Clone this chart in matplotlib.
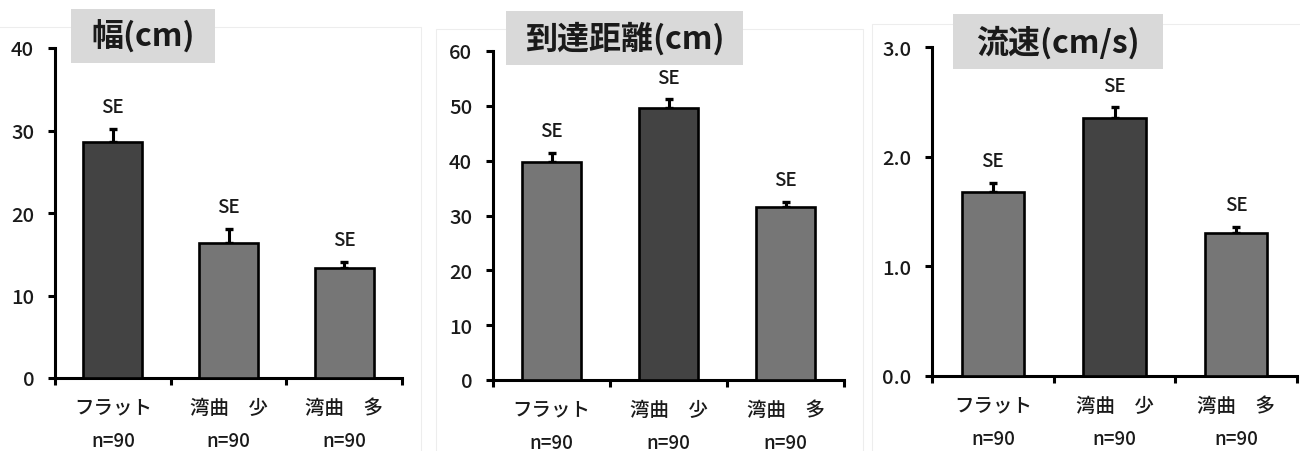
import matplotlib
matplotlib.use("Agg")
import matplotlib.pyplot as plt
from matplotlib.patches import Rectangle

plt.rcParams['font.family'] = ['Noto Sans CJK JP', 'DejaVu Sans']

categories = ["フラット", "湾曲　少", "湾曲　多"]
n_labels = ["n=90", "n=90", "n=90"]

width_mean = [28.6, 16.4, 13.3]
width_se = [1.6, 1.7, 0.8]

dist_mean = [39.8, 49.6, 31.6]
dist_se = [1.6, 1.6, 0.9]

speed_mean = [1.68, 2.35, 1.30]
speed_se = [0.08, 0.10, 0.06]

W, H = 1300, 452
DARK = "#434343"
LIGHT = "#767676"
TXT = "#1a1a1a"

fig = plt.figure(figsize=(W / 100, H / 100), dpi=100)


def px_axes(l, r, t, b):
    return fig.add_axes([l / W, 1 - b / H, (r - l) / W, (b - t) / H])


def frame(l, r, t):
    # faint outline of each chart area
    fig.add_artist(Rectangle((l / W, -0.01), (r - l) / W, 1 - t / H + 0.01,
                             transform=fig.transFigure, fill=False,
                             edgecolor="#ededed", lw=0.8, zorder=0))


def title_box(l, r, t, b, text):
    fig.add_artist(Rectangle((l / W, 1 - b / H), (r - l) / W, (b - t) / H,
                             transform=fig.transFigure, facecolor="#d9d9d9",
                             edgecolor="none", zorder=5))
    fig.text((l + r) / 2 / W, 1 - (t + b) / 2 / H, text, ha="center",
             va="center", fontsize=23, fontweight="bold", color=TXT, zorder=6)


def bar_panel(ax, means, errs, dark_idx, ymax, yticks, fmt):
    x = range(len(means))
    colors = [DARK if i == dark_idx else LIGHT for i in x]
    ax.bar(x, means, width=0.51, color=colors, edgecolor="black",
           linewidth=1.9, zorder=3)
    ax.errorbar(x, means, yerr=[[0] * len(errs), errs], fmt="none",
                ecolor="black", elinewidth=2.2, capsize=3.2, capthick=2.4,
                zorder=2)
    for i, (m, e) in enumerate(zip(means, errs)):
        ax.annotate("SE", (i, m + e), xytext=(0, 9), textcoords="offset points",
                    ha="center", va="bottom", fontsize=13.5, fontweight="medium",
                    color=TXT)
    ax.set_xlim(-0.5, 2.5)
    ax.set_ylim(0, ymax)
    ax.set_xticks([-0.5, 0.5, 1.5, 2.5])
    ax.set_xticklabels([])
    ax.set_yticks(yticks)
    ax.set_yticklabels([fmt.format(v) for v in yticks], fontsize=14.5,
                       fontweight="medium", color=TXT)
    ax.tick_params(axis="both", direction="out", length=5, width=2.2,
                   color="black")
    ax.tick_params(axis="y", pad=10)
    for s in ("top", "right"):
        ax.spines[s].set_visible(False)
    for s in ("left", "bottom"):
        ax.spines[s].set_linewidth(2.2)
        ax.spines[s].set_color("black")
    tr = ax.get_xaxis_transform()
    for i, (c, n) in enumerate(zip(categories, n_labels)):
        ax.annotate(c, (i, 0), xycoords=tr, xytext=(0, -21),
                    textcoords="offset points", ha="center", va="center",
                    fontsize=14, fontweight="medium", color=TXT)
        ax.annotate(n, (i, 0), xycoords=tr, xytext=(0, -49),
                    textcoords="offset points", ha="center", va="baseline",
                    fontsize=13.5, fontweight="medium", color=TXT)
    ax.patch.set_alpha(0)


frame(-5, 421, 28)
frame(436, 863, 30)
frame(872, 1310, 25)

ax1 = px_axes(55, 402, 49, 379)
bar_panel(ax1, width_mean, width_se, 0, 40, [0, 10, 20, 30, 40], "{:.0f}")

ax2 = px_axes(493, 844, 52, 381)
bar_panel(ax2, dist_mean, dist_se, 1, 60, [0, 10, 20, 30, 40, 50, 60], "{:.0f}")

ax3 = px_axes(932, 1297, 48, 377)
bar_panel(ax3, speed_mean, speed_se, 1, 3.0, [0.0, 1.0, 2.0, 3.0], "{:.1f}")

title_box(71, 215, 10, 64, "幅(cm)")
title_box(506, 743, 12, 66, "到達距離(cm)")
title_box(953, 1163, 15, 70, "流速(cm/s)")

fig.savefig("out.png", dpi=100)
